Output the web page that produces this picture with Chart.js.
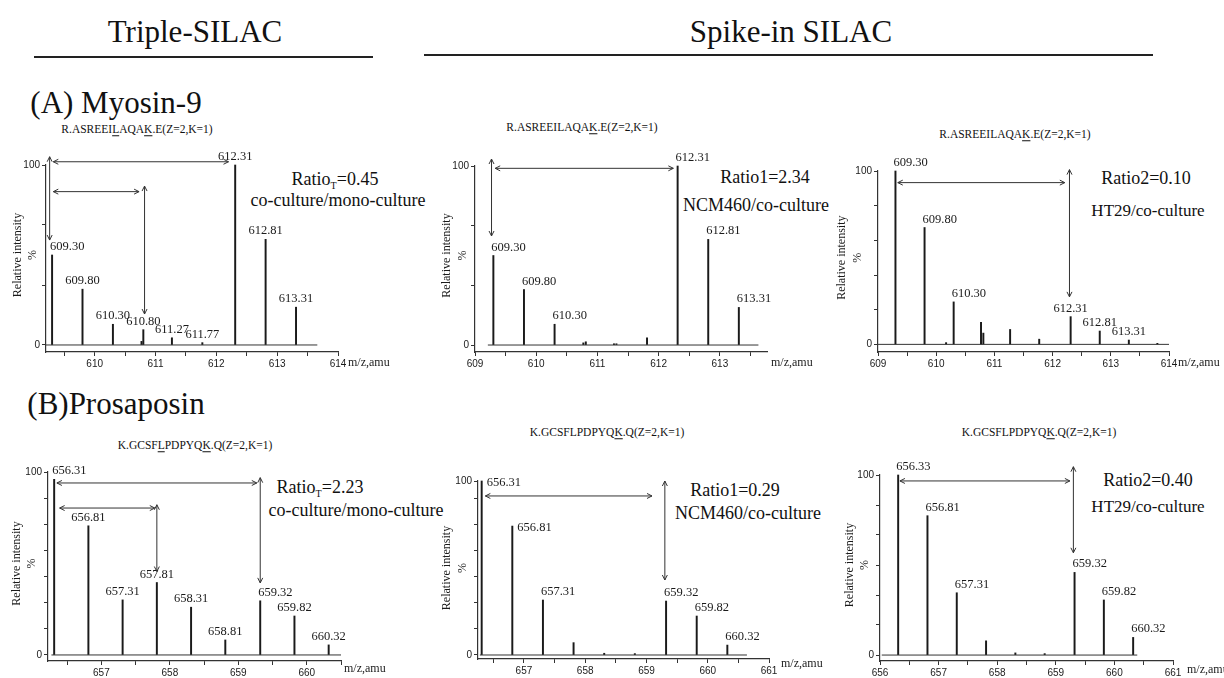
<!DOCTYPE html>
<html>
<head>
<meta charset="utf-8">
<script src="https://cdn.jsdelivr.net/npm/chart.js@4.4.1/dist/chart.umd.min.js"></script>
<style>
  body { margin:0; width:1224px; height:678px; overflow:hidden; background:#fff; position:relative;
         font-family:"Liberation Serif","Times New Roman",serif; color:#111; }
  .t { position:absolute; transform:translate(-50%,-50%); white-space:nowrap; line-height:1; }
  .head { font-size:31px; }
  .pep { font-size:11.5px; }
  .pep u { text-decoration-thickness:1px; text-underline-offset:2px; }
  .ratio { font-size:18px; }
  .ratio sub { font-size:10px; vertical-align:-4px; }
  .rule { position:absolute; height:0; border-top:2px solid #222; }
  canvas { position:absolute; }
</style>
</head>
<body>
<div class="t head" style="left:195px;top:31px">Triple-SILAC</div>
<div class="t head" style="left:791px;top:31px">Spike-in SILAC</div>
<div class="rule" style="left:34px;top:56px;width:339px"></div>
<div class="rule" style="left:424px;top:54px;width:729px"></div>
<div class="t head" style="left:116px;top:102px">(A) Myosin-9</div>
<div class="t head" style="left:116px;top:403px">(B)Prosaposin</div>

<div class="t pep" style="left:137px;top:130px">R.ASREEI<u>L</u>AQA<u>K</u>.E(Z=2,K=1)</div>
<div class="t pep" style="left:582px;top:128px">R.ASREEILAQA<u>K</u>.E(Z=2,K=1)</div>
<div class="t pep" style="left:1015px;top:135px">R.ASREEILAQA<u>K</u>.E(Z=2,K=1)</div>
<div class="t pep" style="left:195px;top:446px">K.GCSF<u>L</u>PDPYQ<u>K</u>.Q(Z=2,K=1)</div>
<div class="t pep" style="left:607px;top:433px">K.GCSFLPDPYQ<u>K</u>.Q(Z=2,K=1)</div>
<div class="t pep" style="left:1039px;top:433px">K.GCSFLPDPYQ<u>K</u>.Q(Z=2,K=1)</div>

<div class="t ratio" style="left:335px;top:180px">Ratio<sub>T</sub>=0.45</div>
<div class="t ratio" style="left:338px;top:200px">co-culture/mono-culture</div>
<div class="t ratio" style="left:765px;top:177px">Ratio1=2.34</div>
<div class="t ratio" style="left:756px;top:205px">NCM460/co-culture</div>
<div class="t ratio" style="left:1146px;top:178px">Ratio2=0.10</div>
<div class="t ratio" style="left:1148px;top:210px;font-size:17px">HT29/co-culture</div>
<div class="t ratio" style="left:320px;top:488px">Ratio<sub>T</sub>=2.23</div>
<div class="t ratio" style="left:356px;top:510px">co-culture/mono-culture</div>
<div class="t ratio" style="left:735px;top:490px">Ratio1=0.29</div>
<div class="t ratio" style="left:748px;top:513px">NCM460/co-culture</div>
<div class="t ratio" style="left:1148px;top:480px">Ratio2=0.40</div>
<div class="t ratio" style="left:1148px;top:506px;font-size:17px">HT29/co-culture</div>

<canvas id="a1"></canvas>
<canvas id="a2"></canvas>
<canvas id="a3"></canvas>
<canvas id="b1"></canvas>
<canvas id="b2"></canvas>
<canvas id="b3"></canvas>

<script>
// ---- (A) Myosin-9 ----
const mzA1  = [609.30, 609.80, 610.30, 610.77, 610.80, 611.27, 611.77, 612.31, 612.81, 613.31];
const intA1 = [50, 31, 11.5, 2, 8.5, 4, 1.3, 100, 58.7, 21];
const lblA1 = ['609.30','609.80','610.30','','610.80','611.27','611.77','612.31','612.81','613.31'];

const mzA2  = [609.30, 609.80, 610.30, 610.77, 610.81, 611.27, 611.31, 611.81, 612.31, 612.81, 613.31];
const intA2 = [50, 31, 11.6, 1.2, 1.8, 0.7, 0.7, 4, 100, 59, 21];
const lblA2 = ['609.30','609.80','610.30','','','','','','612.31','612.81','613.31'];

const mzA3  = [609.30, 609.80, 610.17, 610.30, 610.77, 610.81, 611.27, 611.77, 612.31, 612.81, 613.31, 613.80];
const intA3 = [100, 67.4, 1, 24.5, 12.7, 6.5, 8.6, 3, 16, 7.7, 2.5, 0.6];
const lblA3 = ['609.30','609.80','','610.30','','','','','612.31','612.81','613.31',''];

// ---- (B) Prosaposin ----
const mzB1  = [656.31, 656.81, 657.31, 657.81, 658.31, 658.81, 659.32, 659.82, 660.32];
const intB1 = [96, 70.6, 30.1, 39.6, 26.1, 8.2, 29.6, 21.3, 5.5];
const lblB1 = ['656.31','656.81','657.31','657.81','658.31','658.81','659.32','659.82','660.32'];

const mzB2  = [656.31, 656.81, 657.31, 657.81, 658.31, 658.81, 659.32, 659.82, 660.32];
const intB2 = [100, 74.1, 31.6, 7.1, 1, 0.8, 31, 22.4, 5.7];
const lblB2 = ['656.31','656.81','657.31','','','','659.32','659.82','660.32'];

const mzB3  = [656.31, 656.81, 657.31, 657.81, 658.31, 658.81, 659.32, 659.82, 660.32];
const intB3 = [100, 77.4, 34.6, 7.9, 1.2, 0.8, 45.9, 30.6, 9.8];
const lblB3 = ['656.33','656.81','657.31','','','','659.32','659.82','660.32'];

// spectrum baseline range (m/z)
const baseA1 = [609.2, 613.66], baseA2 = [609.21, 613.63], baseA3 = [609.0, 614.0];
const baseB1 = [656.27, 660.5], baseB2 = [656.28, 660.64], baseB3 = [656.03, 660.39];

// axis ranges and tick labels
const xRangeA1 = [609.2, 614],  xLabelsA1 = [610, 611, 612, 613, 614];
const xRangeA2 = [609, 613.77], xLabelsA2 = [609, 610, 611, 612, 613];
const xRangeA3 = [609, 614],    xLabelsA3 = [609, 610, 611, 612, 613, 614];
const xRangeB1 = [656.22, 660.5], xLabelsB1 = [657, 658, 659, 660];
const xRangeB2 = [656.25, 661], xLabelsB2 = [657, 658, 659, 660, 661];
const xRangeB3 = [656, 661],    xLabelsB3 = [656, 657, 658, 659, 660, 661];
const yTicksA1 = [0, 33.3, 66.7, 100];
const yTicksA2 = [0, 33.3, 66.7, 100];
const yTicksA3 = [0, 20, 40, 60, 80, 100];
const yTicksB1 = [0, 14.3, 28.6, 42.9, 57.1, 71.4, 85.7, 100];
const yTicksB2 = [0, 15, 30, 45, 60, 75, 90, 100];
const yTicksB3 = [0, 16.7, 33.3, 50, 66.7, 83.3, 100];

// ratio arrows: horizontal [from, to, at intensity], vertical [at m/z, top, bottom]
const hArrA1 = [[609.32, 612.20, 101.8], [609.32, 610.73, 85.2]];
const vArrA1 = [[609.26, 104.6, 58.3], [610.82, 88.3, 17.2]];
const hArrA2 = [[609.33, 612.24, 98.7]];
const vArrA2 = [[609.27, 103.9, 60.9]];
const hArrA3 = [[609.34, 612.21, 93.3]];
const vArrA3 = [[612.29, 100.8, 27.4]];
const hArrB1 = [[656.35, 659.27, 94.0], [656.39, 657.78, 80.3]];
const vArrB1 = [[659.32, 96.9, 39.4], [657.81, 82.1, 45.6]];
const hArrB2 = [[656.37, 659.09, 91.4]];
const vArrB2 = [[659.30, 100, 43.1]];
const hArrB3 = [[656.34, 659.24, 96.7]];
const vArrB3 = [[659.30, 104.6, 56.8]];

const SERIF = '"Liberation Serif", "Times New Roman", serif';
const SANS = '"Liberation Sans", Arial, sans-serif';
const INK = '#1a1a1a';

function notes(p) {
  return {
    id: 'notes',
    afterDraw(chart) {
      const { ctx, chartArea: a, scales: { x, y } } = chart;
      ctx.save();
      ctx.fillStyle = INK;
      ctx.strokeStyle = '#333';
      ctx.lineWidth = 1;

      // peak labels
      ctx.font = '12.5px ' + SERIF;
      p.mz.forEach((m, i) => {
        const t = p.lbl[i];
        if (!t) return;
        const px = x.getPixelForValue(m), py = y.getPixelForValue(p.int[i]);
        const s = p.side[i] || 'c';
        if (s === 'r') {
          ctx.textAlign = 'left'; ctx.textBaseline = 'middle';
          ctx.fillText(t, px + 5, py + 2);
        } else {
          ctx.textAlign = s === 'l' ? 'left' : 'center';
          ctx.textBaseline = 'bottom';
          ctx.fillText(t, s === 'l' ? px - 2 : px, py - 2);
        }
      });

      // arrows
      const head = (tx, ty, dx, dy) => {
        ctx.beginPath();
        ctx.moveTo(tx + dx * 5 - dy * 2.5, ty + dy * 5 - dx * 2.5);
        ctx.lineTo(tx, ty);
        ctx.lineTo(tx + dx * 5 + dy * 2.5, ty + dy * 5 + dx * 2.5);
        ctx.stroke();
      };
      p.hArr.forEach(([x1, x2, v]) => {
        const a1 = x.getPixelForValue(x1), a2 = x.getPixelForValue(x2), py = y.getPixelForValue(v);
        ctx.beginPath(); ctx.moveTo(a1, py); ctx.lineTo(a2, py); ctx.stroke();
        head(a1, py, 1, 0); head(a2, py, -1, 0);
      });
      p.vArr.forEach(([m, v1, v2]) => {
        const px = x.getPixelForValue(m), y1 = y.getPixelForValue(v1), y2 = y.getPixelForValue(v2);
        ctx.beginPath(); ctx.moveTo(px, y1); ctx.lineTo(px, y2); ctx.stroke();
        head(px, y1, 0, 1); head(px, y2, 0, -1);
      });

      // axis titles
      ctx.font = '12px ' + SERIF;
      ctx.textAlign = 'center'; ctx.textBaseline = 'middle';
      const cy = (y.getPixelForValue(0) + y.getPixelForValue(100)) / 2;
      [['Relative intensity', p.yTitle[0]], ['%', p.yTitle[1]]].forEach(([t, off]) => {
        ctx.save();
        ctx.translate(a.left + off, cy);
        ctx.rotate(-Math.PI / 2);
        ctx.fillText(t, 0, 0);
        ctx.restore();
      });
      ctx.textAlign = 'left';
      ctx.fillText('m/z,amu', a.right + p.xTitle[0], a.bottom + p.xTitle[1]);
      ctx.restore();
    }
  };
}

function spectrum(id, p) {
  const cv = document.getElementById(id);
  const padL = 50, padT = 45, padR = 72, padB = 28;
  const [L, T, R, B] = p.area;
  cv.width = R - L + padL + padR;
  cv.height = B - T + padT + padB;
  cv.style.left = (L - padL) + 'px';
  cv.style.top = (T - padT) + 'px';

  // major ticks are labelled, half-unit ticks between them are not
  const xt = [];
  p.xLabels.forEach(v => [v - 0.5, v, v + 0.5].forEach(t => {
    if (t >= p.xRange[0] - 1e-6 && t <= p.xRange[1] + 1e-6 && !xt.includes(t)) xt.push(t);
  }));
  xt.sort((a, b) => a - b);

  return new Chart(cv, {
    type: 'bar',
    data: {
      datasets: [
        {
          type: 'bar',
          data: p.mz.map((m, i) => ({ x: m, y: p.int[i] })),
          backgroundColor: INK,
          borderWidth: 0,
          barThickness: 1.3,
          clip: false
        },
        {
          type: 'line',
          data: p.base.map(m => ({ x: m, y: 0 })),
          borderColor: '#333',
          borderWidth: 1,
          pointRadius: 0
        }
      ]
    },
    options: {
      responsive: false,
      animation: false,
      events: [],
      layout: { padding: { left: 0, top: padT, right: padR, bottom: 0 } },
      plugins: { legend: { display: false }, tooltip: { enabled: false } },
      scales: {
        x: {
          type: 'linear',
          min: p.xRange[0], max: p.xRange[1],
          offset: false,
          afterBuildTicks: s => { s.ticks = xt.map(v => ({ value: v })); },
          afterFit: s => { s.height = padB; },
          ticks: {
            autoSkip: false, maxRotation: 0, padding: 2, color: INK,
            font: { family: SANS, size: 10 },
            callback: v => p.xLabels.includes(v) ? String(v) : ''
          },
          grid: { display: true, drawOnChartArea: false, tickLength: 4, color: '#333', offset: false },
          border: { display: true, color: '#333', width: 1.2 }
        },
        y: {
          min: p.yMin, max: 100,
          afterBuildTicks: s => { s.ticks = p.yTicks.map(v => ({ value: v })); },
          afterFit: s => { s.width = padL; },
          ticks: {
            autoSkip: false, padding: 2, color: INK,
            font: { family: SANS, size: 10 },
            callback: v => (v === 0 || v === 100) ? String(v) : ''
          },
          grid: { display: true, drawOnChartArea: false, tickLength: 4, color: '#333' },
          border: { display: true, color: '#333', width: 1.2 }
        }
      }
    },
    plugins: [notes(p)]
  });
}

spectrum('a1', {
  area: [46, 165, 338, 352], xRange: xRangeA1, xLabels: xLabelsA1, yMin: -3.9, yTicks: yTicksA1,
  mz: mzA1, int: intA1, lbl: lblA1, base: baseA1, hArr: hArrA1, vArr: vArrA1,
  side: ['l','c','c','c','c','c','c','c','c','c'], yTitle: [-28, -13], xTitle: [10, 11]
});
spectrum('a2', {
  area: [475, 166, 767, 352], xRange: xRangeA2, xLabels: xLabelsA2, yMin: -3.9, yTicks: yTicksA2,
  mz: mzA2, int: intA2, lbl: lblA2, base: baseA2, hArr: hArrA2, vArr: vArrA2,
  side: ['l','l','l','','','','','','l','l','l'], yTitle: [-28, -12], xTitle: [4, 11]
});
spectrum('a3', {
  area: [878, 171, 1169, 352], xRange: xRangeA3, xLabels: xLabelsA3, yMin: -4.4, yTicks: yTicksA3,
  mz: mzA3, int: intA3, lbl: lblA3, base: baseA3, hArr: hArrA3, vArr: vArrA3,
  side: ['l','l','','l','','','','','c','c','c',''], yTitle: [-36, -20], xTitle: [9, 11]
});
spectrum('b1', {
  area: [48, 472, 341, 661], xRange: xRangeB1, xLabels: xLabelsB1, yMin: -3.3, yTicks: yTicksB1,
  mz: mzB1, int: intB1, lbl: lblB1, base: baseB1, hArr: hArrB1, vArr: vArrB1,
  side: ['l','c','c','c','c','c','l','c','c'], yTitle: [-31, -16], xTitle: [3, 8]
});
spectrum('b2', {
  area: [478, 481, 769, 659], xRange: xRangeB2, xLabels: xLabelsB2, yMin: -2.3, yTicks: yTicksB2,
  mz: mzB2, int: intB2, lbl: lblB2, base: baseB2, hArr: hArrB2, vArr: vArrB2,
  side: ['r','r','l','','','','l','l','l'], yTitle: [-31, -15], xTitle: [12, 5]
});
spectrum('b3', {
  area: [880, 475, 1173, 661], xRange: xRangeB3, xLabels: xLabelsB3, yMin: -3.3, yTicks: yTicksB3,
  mz: mzB3, int: intB3, lbl: lblB3, base: baseB3, hArr: hArrB3, vArr: vArrB3,
  side: ['l','l','l','','','','l','l','l'], yTitle: [-30, -15], xTitle: [14, 9]
});
</script>
</body>
</html>
